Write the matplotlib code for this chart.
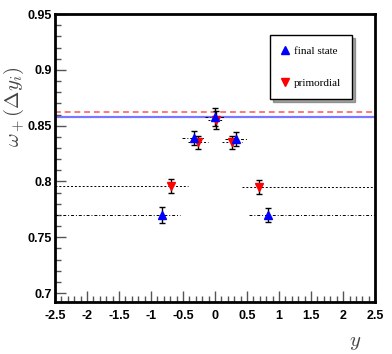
import numpy as np
import matplotlib
matplotlib.use('Agg')
import matplotlib.pyplot as plt
from matplotlib.ticker import MultipleLocator

plt.rcParams['mathtext.fontset'] = 'cm'

# final state (blue, up triangles)
fs_x = [-0.83, -0.33, 0.0, 0.33, 0.83]
fs_y = [0.770, 0.839, 0.858, 0.838, 0.770]
fs_err = [0.0075, 0.006, 0.008, 0.006, 0.0065]
fs_xlo = [-2.5, -0.52, -0.16, 0.16, 0.53]
fs_xhi = [-0.55, -0.16, 0.16, 0.52, 2.5]

# primordial (red, down triangles)
pr_x = [-0.69, -0.27, 0.01, 0.27, 0.69]
pr_y = [0.796, 0.835, 0.855, 0.835, 0.795]
pr_err = [0.0065, 0.006, 0.008, 0.006, 0.0065]
pr_xlo = [-2.5, -0.42, -0.11, 0.11, 0.42]
pr_xhi = [-0.42, -0.11, 0.11, 0.42, 2.5]

fs_level = 0.858
pr_level = 0.862

fig = plt.figure(figsize=(3.92, 3.54), dpi=100)
ax = fig.add_axes([0.140, 0.147, 0.817, 0.813])

ax.axhline(fs_level, color='#7777ff', lw=1.6, zorder=1)
ax.axhline(pr_level, color='#ff7777', lw=1.4, ls=(0, (3, 2)), zorder=1)

# window lines
ax.hlines(fs_y, fs_xlo, fs_xhi, colors='black', lw=0.7, linestyles=(0, (3, 2, 1, 2)), zorder=2)
ax.hlines(pr_y, pr_xlo, pr_xhi, colors='black', lw=0.7, linestyles=(0, (2, 2)), zorder=2)

ax.errorbar(pr_x, pr_y, yerr=pr_err, fmt='none', ecolor='black', elinewidth=1, capsize=2.5, capthick=1, zorder=3)
ax.errorbar(fs_x, fs_y, yerr=fs_err, fmt='none', ecolor='black', elinewidth=1, capsize=2.5, capthick=1, zorder=3)
h_pr, = ax.plot(pr_x, pr_y, 'v', color='red', ms=5.5, mec='red', zorder=4, label='primordial')
h_fs, = ax.plot(fs_x, fs_y, '^', color='blue', ms=5.5, mec='blue', zorder=5, label='final state')

ax.set_xlim(-2.5, 2.5)
ax.set_ylim(0.692, 0.95)
ax.xaxis.set_minor_locator(MultipleLocator(0.1))
ax.yaxis.set_minor_locator(MultipleLocator(0.01))
ax.tick_params(which='both', direction='in', top=False, right=False, width=1, color='#555555')
ax.tick_params(which='major', length=8)
ax.tick_params(which='minor', length=4)
for s in ax.spines.values():
    s.set_linewidth(2)

tick_font = dict(family=['Liberation Sans Narrow', 'Liberation Sans', 'DejaVu Sans'], weight='bold', size=9)
ax.set_xticks(np.arange(-2.5, 2.51, 0.5))
ax.set_xticklabels(['-2.5', '-2', '-1.5', '-1', '-0.5', '0', '0.5', '1', '1.5', '2', '2.5'], **tick_font)
ax.set_yticks([0.7, 0.75, 0.8, 0.85, 0.9, 0.95])
ax.set_yticklabels(['0.7', '0.75', '0.8', '0.85', '0.9', '0.95'], **tick_font)
ax.tick_params(axis='x', pad=6)
ax.tick_params(axis='y', pad=2)

fig.text(0.035, 0.70, r'$\omega_+(\Delta y_i)$', rotation=90, fontsize=15, color='#444444', ha='center', va='center')
fig.text(0.905, 0.035, r'$y$', fontsize=15, color='#444444', ha='center', va='center')

leg = ax.legend([h_fs, h_pr], ['final state', 'primordial'], loc='upper right',
                bbox_to_anchor=(0.928, 0.927), frameon=True, fancybox=False, shadow=True,
                prop={'family': ['Liberation Serif', 'DejaVu Serif'], 'size': 8},
                handlelength=0.7, handletextpad=0.4,
                labelspacing=2.0, borderpad=1.0, borderaxespad=0, numpoints=1)
leg.get_frame().set_edgecolor('black')
leg.get_frame().set_linewidth(1)

fig.savefig('out.png', dpi=100)
